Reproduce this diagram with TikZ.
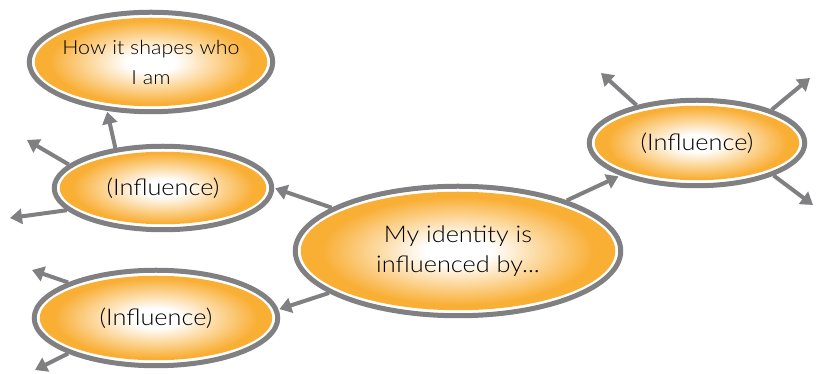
\documentclass[tikz,border=0pt]{standalone}
\usepackage{fontspec}
\setmainfont{Lato Light}[FakeStretch=1.1]
\usetikzlibrary{shapes.geometric,arrows.meta}
\definecolor{rimgray}{RGB}{128,128,131}
\definecolor{glowor}{RGB}{249,174,52}
% white core fading out to orange towards the rim
\pgfdeclareradialshading{glow}{\pgfpoint{0bp}{0bp}}{color(0bp)=(white); color(5bp)=(white); color(21bp)=(glowor); color(25bp)=(glowor); color(50bp)=(glowor)}
\tikzset{
  bubble/.style 2 args={ellipse, draw=rimgray, line width=5pt, fill=white,
    inner sep=-12pt, minimum width=#1pt, minimum height=#2pt,
    align=center, font=\fontsize{23}{30}\selectfont,
    path picture={\shade[shading=glow] (path picture bounding box.center)
      ellipse [x radius=0.5*#1pt-5.5pt, y radius=0.5*#2pt-5.5pt];}},
  link/.style={draw=rimgray, line width=4pt, -{Triangle[length=12pt,width=15pt]}}
}
\begin{document}
\begin{tikzpicture}[x=1pt,y=1pt]
  \useasboundingbox (0,0) rectangle (817,374);

  % ideas
  \node[bubble={243.5}{99.5}, font=\fontsize{19.5}{30}\selectfont] (how) at (151,312) {How it shapes who\\I am};
  \node[bubble={217.5}{83.5}] (inf1) at (163,186) {(Influence)};
  \node[bubble={243.5}{95.5}] (inf2) at (156,56) {(Influence)};
  \node[bubble={325.5}{129.5}] (core) at (458,123) {My identity is\\influenced by...};
  \node[bubble={215.5}{85.5}] (inf3) at (697,231) {(Influence)};

  % open ends of the outgoing arrows
  \coordinate (o1) at (27,234);
  \coordinate (o2) at (10,156);
  \coordinate (o3) at (32,104);
  \coordinate (o4) at (35,4);
  \coordinate (o5) at (601,301);
  \coordinate (o6) at (810,296);
  \coordinate (o7) at (813,169);

  % links from the central idea
  \draw[link, shorten >=1pt] (core) -- (inf1.east);
  \draw[link, shorten >=1pt] (core) -- (inf2.4);
  \draw[link, shorten >=2pt] (core) -- (inf3.203);
  \draw[link, shorten >=1pt] (inf1.140) -- (how.228);

  % further branches
  \draw[link] (inf1.166) -- (o1);
  \draw[link] (inf1.193) -- (o2);
  \draw[link] (inf2.158) -- (o3);
  \draw[link] (inf2.202) -- (o4);
  \draw[link] (inf3.148) -- (o5);
  \draw[link] (inf3.24) -- (o6);
  \draw[link] (inf3.337) -- (o7);
\end{tikzpicture}
\end{document}
